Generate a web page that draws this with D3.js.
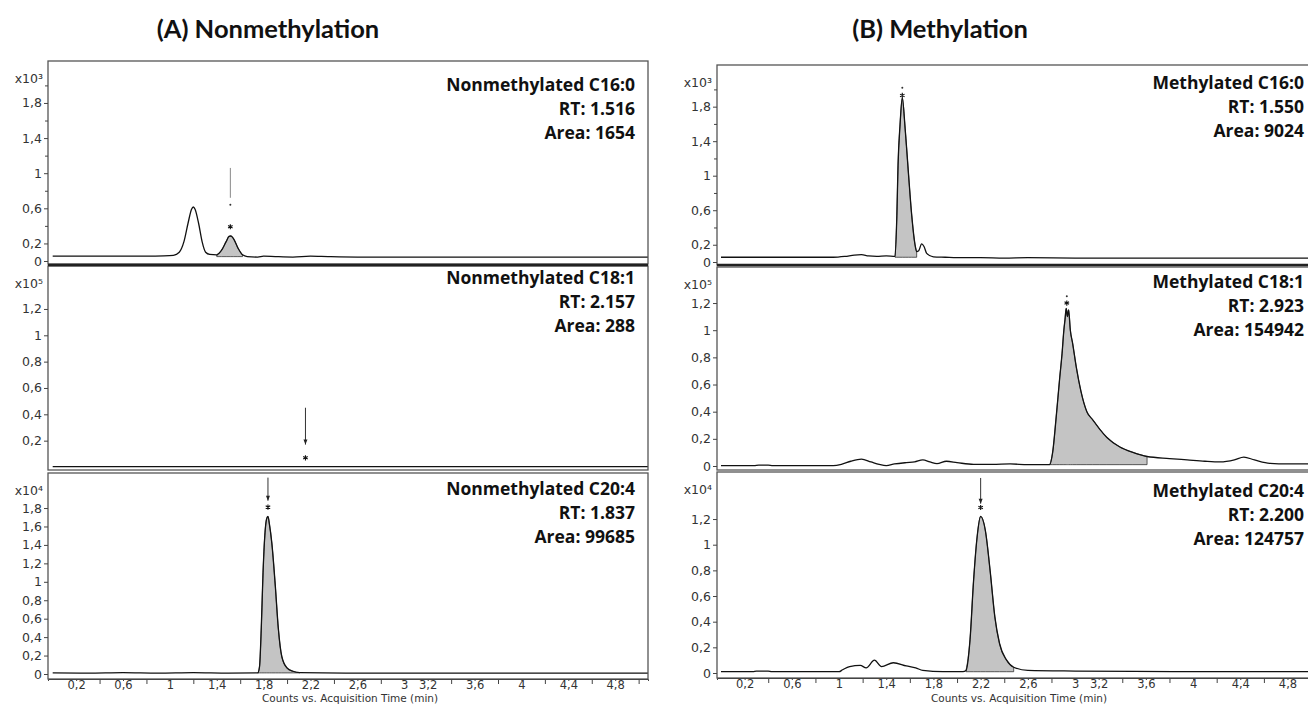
<!DOCTYPE html>
<meta charset="utf-8">
<script src="https://d3js.org/d3.v7.min.js"></script>
<style>
  body { margin: 0; background: #fff; }
  svg { display: block; }
</style>
<div id="chart"></div>
<script>
// ---- data ----
// time axis (min)
const timeLabels = [0.2, 0.6, 1, 1.4, 1.8, 2.2, 2.6, 3, 3.2, 3.6, 4, 4.4, 4.8];
const timeMinor = [0.4, 0.8, 1.2, 1.6, 2.0, 2.4, 2.8, 3.4, 3.8, 4.2, 4.6, 5.0];

// count axis ticks per trace
const ticksC16 = [0, 0.2, 0.6, 1, 1.4, 1.8];
const minorC16 = [0.4, 0.8, 1.2, 1.6, 2.0];
const ticksNonC18 = [0.2, 0.4, 0.6, 0.8, 1, 1.2];
const ticksMetC18 = [0, 0.2, 0.4, 0.6, 0.8, 1, 1.2];
const ticksNonC20 = [0, 0.2, 0.4, 0.6, 0.8, 1, 1.2, 1.4, 1.6, 1.8];
const ticksMetC20 = [0, 0.2, 0.4, 0.6, 0.8, 1, 1.2];
const multipliers = ["x10³", "x10⁵", "x10⁴"];

// compound labels
const namesA = ["Nonmethylated C16:0", "Nonmethylated C18:1", "Nonmethylated C20:4"];
const rtA = ["1.516", "2.157", "1.837"];
const areaA = ["1654", "288", "99685"];
const namesB = ["Methylated C16:0", "Methylated C18:1", "Methylated C20:4"];
const rtB = ["1.550", "2.923", "2.200"];
const areaB = ["9024", "154942", "124757"];

// traces: [time, counts (in multiplier units)]
const nonC160 = [[0,0.055],[0.4,0.055],[0.8,0.055],[0.95,0.058],[1.03,0.065],[1.08,0.1],[1.12,0.22],[1.155,0.43],[1.185,0.59],[1.2,0.615],[1.215,0.59],[1.245,0.43],[1.275,0.22],[1.305,0.1],[1.34,0.075],[1.40,0.07],[1.44,0.12],[1.48,0.22],[1.505,0.28],[1.52,0.285],[1.545,0.25],[1.58,0.15],[1.62,0.07],[1.66,0.05],[1.75,0.045],[1.8,0.055],[1.9,0.05],[2.05,0.045],[2.2,0.055],[2.35,0.05],[2.6,0.045],[3.0,0.045],[3.5,0.045],[4.0,0.045],[4.5,0.045],[5.08,0.045]];
const nonC181 = [[0,0.003],[5.08,0.003]];
const nonC204 = [[0,0.012],[0.3,0.01],[0.6,0.015],[0.9,0.01],[1.2,0.015],[1.5,0.01],[1.75,0.012],[1.765,0.08],[1.78,0.5],[1.795,1.1],[1.81,1.5],[1.825,1.68],[1.837,1.71],[1.85,1.62],[1.87,1.42],[1.90,0.95],[1.925,0.5],[1.955,0.19],[2.0,0.065],[2.05,0.03],[2.11,0.015],[2.5,0.01],[3.0,0.01],[4.0,0.01],[5.08,0.01]];
const metC160 = [[0,0.055],[0.5,0.055],[0.95,0.055],[1.05,0.065],[1.13,0.08],[1.19,0.085],[1.25,0.07],[1.32,0.065],[1.4,0.07],[1.475,0.065],[1.49,0.54],[1.50,1.12],[1.517,1.59],[1.536,1.9],[1.56,1.55],[1.587,1.05],[1.616,0.54],[1.644,0.2],[1.658,0.12],[1.675,0.13],[1.70,0.21],[1.72,0.18],[1.743,0.1],[1.8,0.06],[1.9,0.055],[2.0,0.05],[2.2,0.05],[2.4,0.045],[2.6,0.05],[3.0,0.045],[3.5,0.045],[4.0,0.045],[5.05,0.045]];
const metC181 = [[0,0.003],[0.28,0.003],[0.32,0.007],[0.4,0.006],[0.44,0.003],[0.95,0.003],[1.02,0.012],[1.1,0.035],[1.19,0.05],[1.27,0.03],[1.34,0.012],[1.40,0.003],[1.47,0.015],[1.57,0.025],[1.64,0.03],[1.71,0.045],[1.77,0.03],[1.83,0.017],[1.91,0.035],[2.0,0.025],[2.14,0.012],[2.3,0.012],[2.45,0.015],[2.6,0.01],[2.785,0.01],[2.81,0.1],[2.84,0.36],[2.87,0.65],[2.89,0.83],[2.905,1.0],[2.915,1.08],[2.925,1.16],[2.935,1.1],[2.945,1.15],[2.96,1.0],[2.98,0.9],[3.01,0.73],[3.05,0.55],[3.10,0.40],[3.15,0.34],[3.21,0.27],[3.27,0.21],[3.38,0.14],[3.49,0.10],[3.61,0.07],[3.8,0.055],[3.95,0.045],[4.1,0.035],[4.23,0.03],[4.35,0.045],[4.43,0.065],[4.52,0.045],[4.65,0.02],[4.8,0.015],[5.05,0.015]];
const metC204 = [[0,0.01],[0.27,0.01],[0.3,0.015],[0.4,0.015],[0.43,0.01],[1.0,0.01],[1.03,0.025],[1.09,0.05],[1.18,0.06],[1.23,0.04],[1.30,0.1],[1.36,0.05],[1.46,0.08],[1.57,0.055],[1.65,0.04],[1.71,0.02],[1.88,0.01],[2.05,0.01],[2.076,0.02],[2.11,0.26],[2.14,0.72],[2.17,1.06],[2.20,1.22],[2.24,1.11],[2.28,0.8],[2.32,0.44],[2.36,0.23],[2.42,0.1],[2.48,0.045],[2.6,0.02],[3.0,0.015],[3.5,0.012],[4.0,0.01],[5.05,0.01]];

// integrated regions [start, end, baseline]
const fills = {
  nonC160: [1.40, 1.62, 0.05],
  nonC204: [1.75, 2.11, 0.012],
  metC160: [1.475, 1.658, 0.055],
  metC181: [2.785, 3.61, 0.01],
  metC204: [2.076, 2.48, 0.01]
};

// peak markers: time, marker line top/bottom, dot, star (counts)
const markers = {
  nonC160: {t: 1.516, line: [1.06, 0.72], arrow: false, dot: 0.64, star: 0.39},
  nonC181: {t: 2.157, line: [0.45, 0.17], arrow: true, star: 0.07},
  nonC204: {t: 1.837, line: [2.13, 1.88], arrow: true, star: 1.81},
  metC160: {t: 1.536, dot: 2.02, star: 1.93},
  metC181: {t: 2.93, dot: 1.25, star: 1.2},
  metC204: {t: 2.20, line: [1.52, 1.32], arrow: true, star: 1.29}
};

// ---- layout ----
const W = 1308, H = 705;
const fmt = d => String(d).replace(".", ",");
const tickFont = "'DejaVu Sans', 'Liberation Sans', sans-serif";

const columns = [
  {title: "(A) Nonmethylation", titleX: 268, x0: 48, x1: 648, domain: [-0.04, 5.08], textX: 635,
   panels: [
     {key: "nonC160", data: nonC160, top: 61, bottom: 264, zero: 261, unit: 87.8, ticks: ticksC16, minor: minorC16, textY: 91},
     {key: "nonC181", data: nonC181, top: 266, bottom: 470, zero: 467, unit: 131.7, ticks: ticksNonC18, minor: [], textY: 284},
     {key: "nonC204", data: nonC204, top: 473, bottom: 679, zero: 674, unit: 92.2, ticks: ticksNonC20, minor: [], textY: 495}
   ], names: namesA, rts: rtA, areas: areaA},
  {title: "(B) Methylation", titleX: 940, x0: 717, x1: 1317, domain: [-0.034, 5.05], textX: 1304,
   panels: [
     {key: "metC160", data: metC160, top: 65, bottom: 265, zero: 262, unit: 86.3, ticks: ticksC16, minor: minorC16, textY: 89},
     {key: "metC181", data: metC181, top: 267, bottom: 470, zero: 466, unit: 135.8, ticks: ticksMetC18, minor: [], textY: 288},
     {key: "metC204", data: metC204, top: 472, bottom: 678, zero: 673, unit: 128.3, ticks: ticksMetC20, minor: [], textY: 497}
   ], names: namesB, rts: rtB, areas: areaB}
];

const svg = d3.select("#chart").append("svg")
  .attr("width", W)
  .attr("height", H);

function starPath(cx, cy, r) {
  const a = r * 0.87, b = r * 0.5;
  return `M${cx},${cy - r}L${cx},${cy + r}M${cx - a},${cy - b}L${cx + a},${cy + b}M${cx - a},${cy + b}L${cx + a},${cy - b}`;
}

columns.forEach((col, ci) => {
  const x = d3.scaleLinear().domain(col.domain).range([col.x0, col.x1]);

  svg.append("text")
    .attr("x", col.titleX).attr("y", 38)
    .attr("text-anchor", "middle")
    .style("font-family", "Lato, 'Open Sans', sans-serif")
    .style("font-weight", "bold")
    .style("font-size", "25.5px")
    .attr("fill", "#111")
    .text(col.title);

  col.panels.forEach((p, pi) => {
    // y scale from pixel calibration of the panel
    const y = d3.scaleLinear()
      .domain([-(p.bottom - p.zero) / p.unit, (p.zero - p.top) / p.unit])
      .range([p.bottom, p.top]);

    const clipId = `clip-${ci}-${pi}`;
    svg.append("clipPath").attr("id", clipId)
      .append("rect")
      .attr("x", col.x0).attr("y", p.top)
      .attr("width", col.x1 - col.x0).attr("height", p.bottom - p.top);

    const g = svg.append("g");
    const plot = g.append("g").attr("clip-path", `url(#${clipId})`);

    // integrated area
    const f = fills[p.key];
    if (f) {
      const seg = p.data.filter(d => d[0] >= f[0] && d[0] <= f[1]);
      plot.append("path")
        .datum(seg)
        .attr("fill", "#c4c4c4")
        .attr("stroke", "#333")
        .attr("stroke-width", 0.8)
        .attr("d", d3.area()
          .x(d => x(d[0]))
          .y0(y(f[2]))
          .y1(d => y(d[1]))
          .curve(d3.curveMonotoneX));
    }

    // trace
    plot.append("path")
      .datum(p.data)
      .attr("fill", "none")
      .attr("stroke", "#111")
      .attr("stroke-width", 1.3)
      .attr("d", d3.line()
        .x(d => x(d[0]))
        .y(d => y(d[1]))
        .curve(d3.curveMonotoneX));

    // peak marker
    const m = markers[p.key];
    const mx = x(m.t);
    if (m.line) {
      plot.append("line")
        .attr("x1", mx).attr("x2", mx)
        .attr("y1", y(m.line[0])).attr("y2", y(m.line[1]))
        .attr("stroke", m.arrow ? "#333" : "#888")
        .attr("stroke-width", 1);
      if (m.arrow) {
        const yb = y(m.line[1]);
        plot.append("path")
          .attr("d", `M${mx - 2},${yb - 5}L${mx + 2},${yb - 5}L${mx},${yb}Z`)
          .attr("fill", "#222");
      }
    }
    if (m.dot !== undefined) {
      plot.append("circle")
        .attr("cx", mx).attr("cy", y(m.dot)).attr("r", 1)
        .attr("fill", "#333");
    }
    plot.append("path")
      .attr("d", starPath(mx, y(m.star), 2.6))
      .attr("stroke", "#111")
      .attr("stroke-width", 1.1);

    // frame
    g.append("rect")
      .attr("x", col.x0).attr("y", p.top)
      .attr("width", col.x1 - col.x0).attr("height", p.bottom - p.top)
      .attr("fill", "none")
      .attr("stroke", "#555")
      .attr("stroke-width", 1.3);

    // y axis
    const yAxis = g.append("g")
      .attr("transform", `translate(${col.x0},0)`)
      .call(d3.axisLeft(y).tickValues(p.ticks).tickSize(4).tickPadding(2).tickFormat(fmt));
    if (p.minor.length) {
      g.append("g")
        .attr("transform", `translate(${col.x0},0)`)
        .call(d3.axisLeft(y).tickValues(p.minor).tickSize(3).tickFormat(""))
        .call(a => a.select(".domain").remove());
    }
    yAxis.select(".domain").remove();
    g.selectAll(".tick line").attr("stroke", "#444");
    g.selectAll(".tick text")
      .style("font-family", tickFont)
      .style("font-size", "12.5px")
      .attr("fill", "#333");

    // multiplier
    g.append("text")
      .attr("x", col.x0 - 5).attr("y", p.top + 22)
      .attr("text-anchor", "end")
      .style("font-family", tickFont)
      .style("font-size", "12.5px")
      .attr("fill", "#333")
      .text(multipliers[pi]);

    // compound annotation
    const lines = [col.names[pi], "RT: " + col.rts[pi], "Area: " + col.areas[pi]];
    g.selectAll(".ann")
      .data(lines)
      .join("text")
      .attr("x", col.textX)
      .attr("y", (d, i) => p.textY + i * 24)
      .attr("text-anchor", "end")
      .style("font-family", "'Open Sans', Lato, sans-serif")
      .style("font-weight", "bold")
      .style("font-size", "17.5px")
      .attr("fill", "#111")
      .text(d => d);
  });

  // separator between first and second trace
  svg.append("line")
    .attr("x1", col.x0).attr("x2", col.x1)
    .attr("y1", 265).attr("y2", 265)
    .attr("stroke", "#222")
    .attr("stroke-width", 2.5);

  // time axis
  const last = col.panels[col.panels.length - 1];
  const xg = svg.append("g").attr("transform", `translate(0,${last.bottom})`);
  xg.call(d3.axisBottom(x).tickValues(timeLabels).tickSize(2).tickPadding(0).tickFormat(fmt));
  xg.append("g").call(d3.axisBottom(x).tickValues(timeMinor).tickSize(5).tickFormat(""))
    .call(a => a.select(".domain").remove());
  xg.select(".domain").attr("stroke", "#444");
  xg.selectAll(".tick line").attr("stroke", "#444");
  xg.selectAll(".tick text")
    .style("font-family", tickFont)
    .style("font-size", "11.5px")
    .attr("fill", "#333");

  svg.append("text")
    .attr("x", (col.x0 + 648 - 48 + col.x0) / 2 + 2)
    .attr("y", 701.5)
    .attr("text-anchor", "middle")
    .style("font-family", tickFont)
    .style("font-size", "10.5px")
    .attr("fill", "#333")
    .text("Counts vs. Acquisition Time (min)");
});
</script>
